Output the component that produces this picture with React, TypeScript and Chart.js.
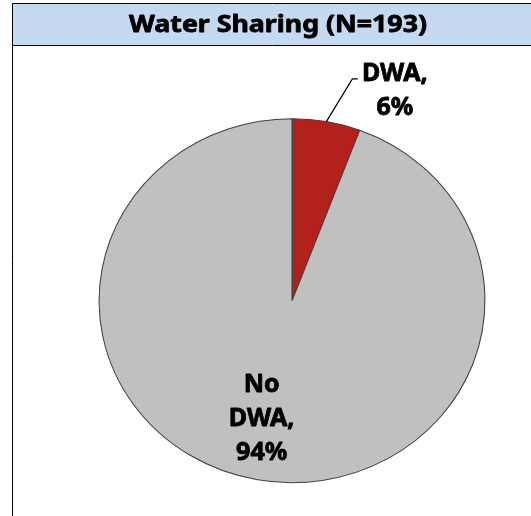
import React, { useEffect, useRef } from "react";
import { Chart, registerables } from "chart.js";

Chart.register(...registerables);

const TITLE = "Water Sharing (N=193)";
const CATEGORIES = ["DWA", "No DWA"];
const COUNTS = [11, 182];
const COLORS = ["#B2221B", "#C0C0C0"];
const BORDER_COLOR = "#404040";
const TITLE_BG = "#C5D9F1";
const STRETCH_X = 1.06; // reference pie is slightly wider than tall
const FONT = '"Noto Sans", "Liberation Sans", Arial, sans-serif';

function heavyText(ctx: CanvasRenderingContext2D, t: string, x: number, y: number) {
  ctx.lineWidth = 0.8;
  ctx.lineJoin = "round";
  ctx.strokeStyle = "#000000";
  ctx.strokeText(t, x, y);
  ctx.fillText(t, x, y);
}

const framePlugin = {
  id: "frame",
  beforeDraw(chart: any) {
    const ctx = chart.ctx as CanvasRenderingContext2D;
    ctx.save();
    ctx.fillStyle = "#ffffff";
    ctx.fillRect(0, 0, chart.width, chart.height);
    ctx.fillStyle = TITLE_BG;
    ctx.fillRect(12.5, 3.5, chart.width, 42);
    ctx.strokeStyle = "#000000";
    ctx.lineWidth = 1;
    ctx.beginPath();
    ctx.moveTo(12.5, chart.height + 5);
    ctx.lineTo(12.5, 3.5);
    ctx.lineTo(chart.width + 5, 3.5);
    ctx.moveTo(12.5, 45.5);
    ctx.lineTo(chart.width + 5, 45.5);
    ctx.stroke();

    ctx.font = `bold 23.5px ${FONT}`;
    ctx.fillStyle = "#000000";
    ctx.textAlign = "center";
    ctx.textBaseline = "alphabetic";
    const w = ctx.measureText(TITLE).width;
    const k = 298 / w;
    ctx.translate(278, 31.7);
    ctx.scale(k, 1);
    heavyText(ctx, TITLE, 0, 0);
    ctx.restore();
  },
};

const stretchPlugin = {
  id: "stretch",
  beforeDatasetsDraw(chart: any) {
    const ctx = chart.ctx as CanvasRenderingContext2D;
    const arc = chart.getDatasetMeta(0).data[0];
    ctx.save();
    ctx.translate(arc.x, 0);
    ctx.scale(STRETCH_X, 1);
    ctx.translate(-arc.x, 0);
  },
  afterDatasetsDraw(chart: any) {
    chart.ctx.restore();
  },
};

const labelPlugin = {
  id: "sliceLabels",
  afterDraw(chart: any) {
    const ctx = chart.ctx as CanvasRenderingContext2D;
    const meta = chart.getDatasetMeta(0);
    const total = COUNTS.reduce((a, b) => a + b, 0);
    ctx.save();
    ctx.font = `bold 25px ${FONT}`;
    ctx.fillStyle = "#000000";
    ctx.textAlign = "center";
    ctx.textBaseline = "alphabetic";
    const lineH = 34;
    meta.data.forEach((el: any, i: number) => {
      const { x, y, startAngle, endAngle, outerRadius } = el.getProps(
        ["x", "y", "startAngle", "endAngle", "outerRadius"],
        true
      );
      const mid = (startAngle + endAngle) / 2;
      const pct = Math.round((COUNTS[i] / total) * 100);
      const words = CATEGORIES[i].split(" ");
      const lines = [...words.slice(0, -1), words[words.length - 1] + ",", pct + "%"];
      if (COUNTS[i] / total < 0.15) {
        // outside label with leader line
        const ex = x + STRETCH_X * outerRadius * Math.cos(mid);
        const ey = y + outerRadius * Math.sin(mid);
        const bx = ex + 26;
        const by = ey - 42.7;
        ctx.strokeStyle = "#000000";
        ctx.lineWidth = 1.2;
        ctx.beginPath();
        ctx.moveTo(ex, ey);
        ctx.lineTo(bx, by);
        ctx.lineTo(bx + 5.5, by);
        ctx.stroke();
        lines.forEach((t, j) => heavyText(ctx, t, bx + 42.5, by + 2 + j * lineH));
      } else {
        const r = outerRadius * 0.65;
        const cx = x + STRETCH_X * r * Math.cos(mid) - 8;
        const cy = y + r * Math.sin(mid);
        const firstBase = cy - ((lines.length - 1) * lineH) / 2 + 8.5;
        lines.forEach((t, j) => heavyText(ctx, t, cx, firstBase + j * lineH));
      }
    });
    ctx.restore();
  },
};

export default function App() {
  const ref = useRef<HTMLCanvasElement>(null);
  useEffect(() => {
    const canvas = ref.current!;
    const chart = new Chart(canvas, {
      type: "pie",
      data: {
        labels: CATEGORIES,
        datasets: [
          {
            data: COUNTS,
            backgroundColor: COLORS,
            borderColor: BORDER_COLOR,
            borderWidth: 1,
          },
        ],
      },
      options: {
        responsive: false,
        animation: false,
        devicePixelRatio: 1,
        events: [],
        layout: { padding: { top: 118.2, bottom: 32.8, left: 109.5, right: 56.5 } },
        plugins: {
          legend: { display: false },
          tooltip: { enabled: false },
          title: { display: false },
        },
      },
      plugins: [framePlugin, stretchPlugin, labelPlugin],
    } as any);
    return () => chart.destroy();
  }, []);
  return (
    <div style={{ position: "absolute", left: 0, top: 0, width: 531, height: 516 }}>
      <canvas
        ref={ref}
        width={531}
        height={516}
        style={{ display: "block", width: 531, height: 516 }}
      />
    </div>
  );
}
